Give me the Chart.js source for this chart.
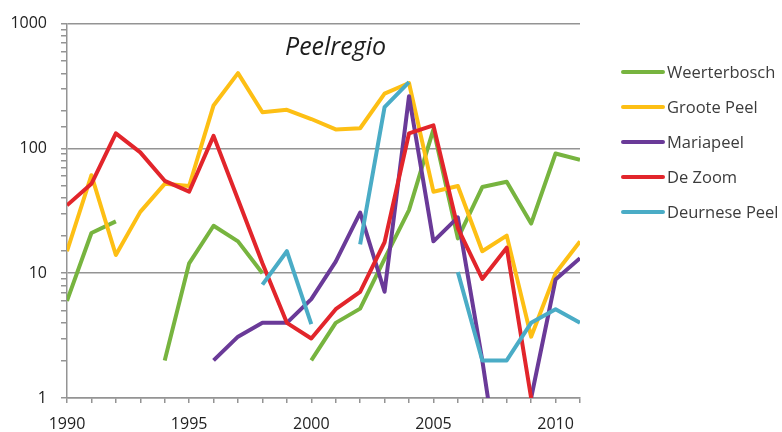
<!DOCTYPE html>
<html>
<head>
<meta charset="utf-8">
<script src="https://cdn.jsdelivr.net/npm/chart.js@4/dist/chart.umd.min.js"></script>
<style>
html,body{margin:0;padding:0;background:#fff;}
#wrap{width:782px;height:432px;position:relative;}
</style>
</head>
<body>
<div id="wrap"><canvas id="c" width="782" height="432"></canvas></div>
<script>
const years = [1990,1991,1992,1993,1994,1995,1996,1997,1998,1999,2000,2001,2002,2003,2004,2005,2006,2007,2008,2009,2010,2011];
const weerterbosch = [6,21,26,null,2,12,24,18,10,null,2,4,5.2,13,32,142,19,49,54,25,91,81];
const grootePeel   = [15,61,14,31,52,50,221,401,195,204,172,142,145,275,334,45,50,15,20,3.1,10,18];
const mariapeel    = [null,null,null,null,null,null,2,3.1,4,4,6.2,12.4,30.6,7.1,262,18,28,2,0.1,1,8.9,13.2];
const deZoom       = [35,52,132,93,55,45,126,39,12,4,3,5.15,7.1,17.7,132,153,23,9,16,1,null,null];
const deurnesePeel = [null,null,null,null,null,null,null,null,8.1,15,3.9,null,17,214,340,null,10.2,2,2,4,5.15,4];
const seriesNames  = ['Weerterbosch','Groote Peel','Mariapeel','De Zoom','Deurnese Peel'];
const seriesData   = [weerterbosch, grootePeel, mariapeel, deZoom, deurnesePeel];
const seriesColors = ['#77B43F','#FDBF14','#6A3A98','#E2252B','#4AACC6'];
const majorTicks   = [1,10,100,1000];
const chartTitle   = 'Peelregio';

const FONT = "'Open Sans', 'Liberation Sans', sans-serif";
const axisGrey = '#949494';

const datasets = seriesData.map((vals, i) => ({
  label: seriesNames[i],
  data: years.map((yr, k) => ({x: yr, y: vals[k]})),
  borderColor: seriesColors[i],
  backgroundColor: seriesColors[i],
  borderWidth: 4,
  pointRadius: 0,
  pointHoverRadius: 0,
  tension: 0,
  fill: false,
  spanGaps: false,
  borderJoinStyle: 'round',
  borderCapStyle: 'butt',
  order: seriesData.length - i
}));

const decoPlugin = {
  id: 'deco',
  afterDraw(chart) {
    const ctx = chart.ctx;
    ctx.save();
    // title
    ctx.fillStyle = '#1e1e1e';
    ctx.font = "italic 25px " + FONT;
    ctx.textAlign = 'left';
    ctx.textBaseline = 'alphabetic';
    ctx.fillText(chartTitle, 285, 55);
    // legend
    const lx0 = 623, lx1 = 663, tx = 667, y0 = 72, dy = 35;
    ctx.font = "16.5px " + FONT;
    ctx.textBaseline = 'middle';
    seriesNames.forEach((name, i) => {
      const y = y0 + i * dy;
      ctx.strokeStyle = seriesColors[i];
      ctx.lineWidth = 4;
      ctx.lineCap = 'round';
      ctx.beginPath();
      ctx.moveTo(lx0, y);
      ctx.lineTo(lx1, y);
      ctx.stroke();
      ctx.fillStyle = '#3c3c3c';
      ctx.fillText(name, tx, y + 1);
    });
    ctx.restore();
  }
};

new Chart(document.getElementById('c'), {
  type: 'line',
  data: { datasets },
  plugins: [decoPlugin],
  options: {
    responsive: false,
    animation: false,
    devicePixelRatio: 1,
    layout: { padding: { left: 0, right: 202, top: 20, bottom: 0 } },
    plugins: {
      legend: { display: false },
      title: { display: false },
      tooltip: { enabled: false }
    },
    scales: {
      x: {
        type: 'linear',
        min: 1990,
        max: 2011,
        afterFit(scale) { scale.height = 34; },
        ticks: {
          stepSize: 1,
          autoSkip: false,
          maxRotation: 0,
          padding: 12,
          color: '#222',
          font: { family: FONT, size: 16 },
          callback: (v) => (v % 5 === 0 ? String(v) : '')
        },
        grid: {
          drawOnChartArea: false,
          drawTicks: true,
          tickLength: 5,
          color: axisGrey,
          lineWidth: 1.5
        },
        border: { color: axisGrey, width: 1.5 }
      },
      y: {
        type: 'logarithmic',
        min: 1,
        max: 1000,
        afterFit(scale) { scale.width = 67; },
        ticks: {
          autoSkip: false,
          padding: 14,
          color: '#222',
          font: { family: FONT, size: 16 },
          callback: (v) => (majorTicks.includes(v) ? String(v) : '')
        },
        grid: {
          drawTicks: true,
          tickLength: 6,
          lineWidth: 1.5,
          color: (ctx) => (ctx.tick && majorTicks.includes(ctx.tick.value) ? axisGrey : 'rgba(0,0,0,0)'),
          tickColor: axisGrey
        },
        border: { color: axisGrey, width: 1.5 }
      }
    }
  }
});
</script>
</body>
</html>
